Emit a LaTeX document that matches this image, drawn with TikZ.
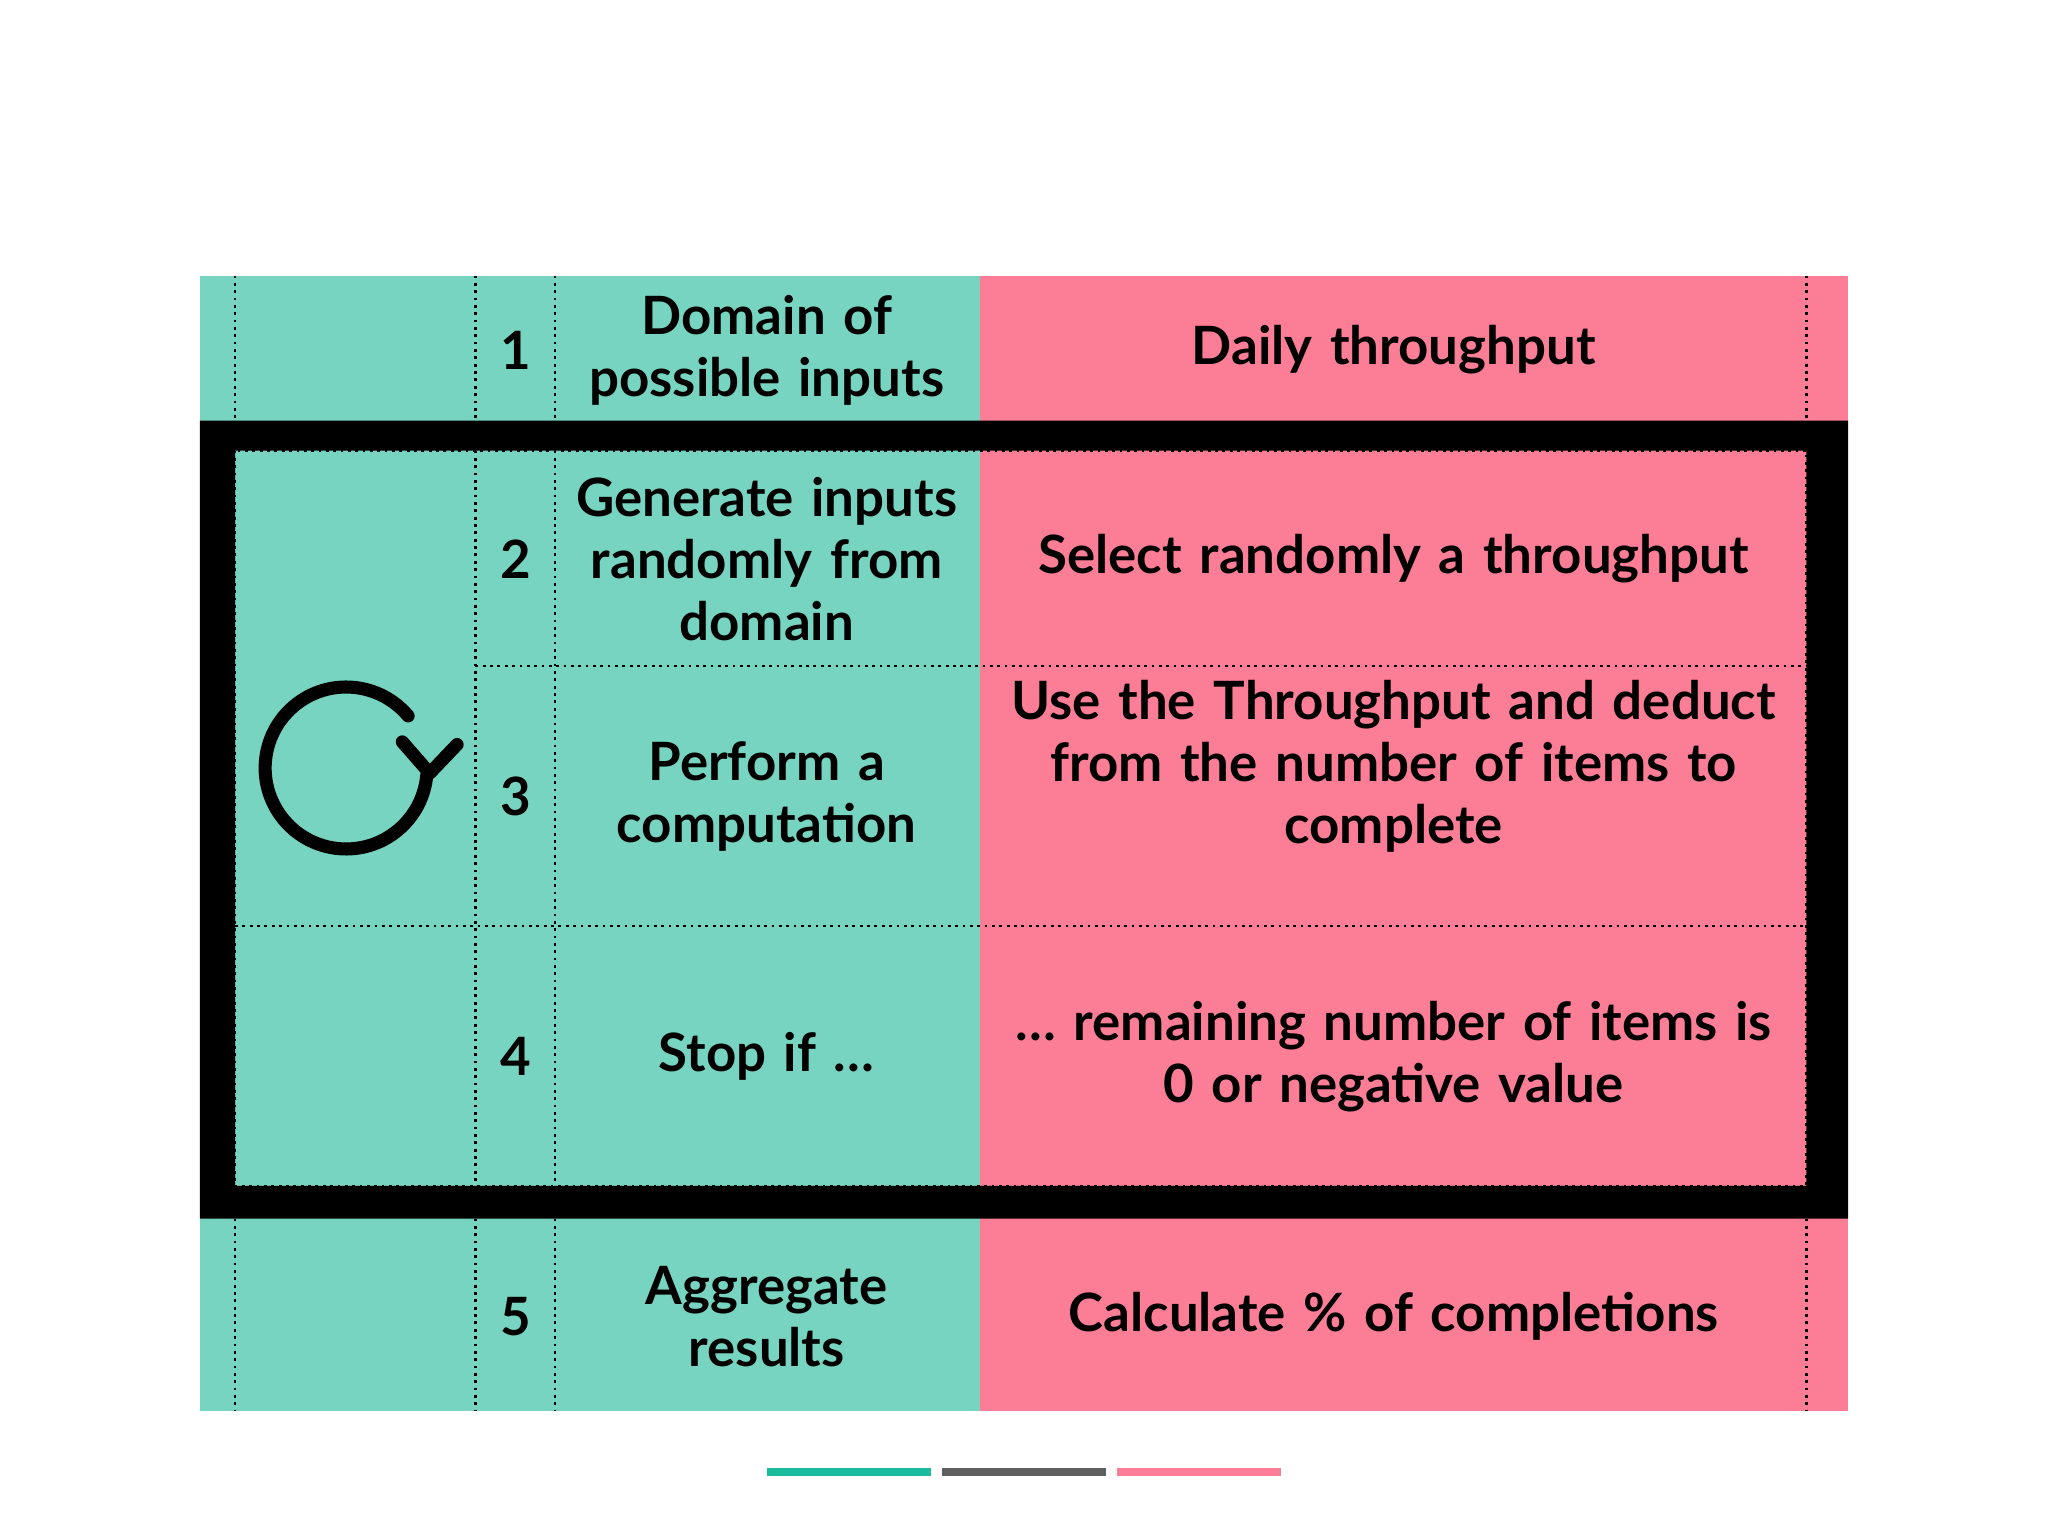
\documentclass[tikz,border=0pt]{standalone}
\usepackage{fontspec}
\setmainfont{Lato}
\usetikzlibrary{arrows.meta}
\definecolor{tgreen}{HTML}{76D4C0}
\definecolor{tpink}{HTML}{FB7E96}
\definecolor{bgreen}{HTML}{1ABC9C}
\definecolor{bgray}{HTML}{5F5F5F}
\tikzset{
  dl/.style={densely dotted, line width=0.6pt},
  txt/.style={font=\bfseries\fontsize{11.5}{13.5}\selectfont, align=center, text width=#1},
  num/.style={font=\bfseries\fontsize{11.5}{13.5}\selectfont},
}
\begin{document}
\begin{tikzpicture}[x=0.01cm,y=-0.01cm]
\useasboundingbox (0,0) rectangle (1568,1176);
\fill[white] (0,0) rectangle (1568,1176);
\fill[tgreen] (153,211) rectangle (750,1080);
\fill[tpink] (750,211) rectangle (1415,1080);
% black frame
\fill[black,even odd rule] (153,322) rectangle (1415,933) (180,345) rectangle (1383,908);
% dotted lines
\foreach \x in {180,364,425,1383}{
  \draw[dl] (\x,211) -- (\x,322);
  \draw[dl] (\x,933) -- (\x,1080);
}
\draw[dl] (364,345) -- (364,908);
\draw[dl] (425,345) -- (425,908);
\draw[dl] (180,345) rectangle (1383,908);
\draw[dl] (364,510) -- (1383,510);
\draw[dl] (180,709) -- (1383,709);
% numbers
\node[num] (n1) at (395,268) {1};
\node[num] (n2) at (395,428) {2};
\node[num] (n3) at (395,610) {3};
\node[num] (n4) at (395,809) {4};
\node[num] (n5) at (395,1008) {5};
% green texts
\node[txt=6.5cm] (g1) at (587,268) {Domain of\\possible inputs};
\node[txt=6.5cm] (g2) at (587,428) {Generate inputs\\randomly from\\domain};
\node[txt=6.5cm] (g3) at (587,610) {Perform a\\computation};
\node[txt=6.5cm] (g4) at (587,809) {Stop if \dots};
\node[txt=6.5cm] (g5) at (587,1008) {Aggregate\\results};
% pink texts
\node[txt=12cm] (p1) at (1067,268) {Daily throughput};
\node[txt=12cm] (p2) at (1067,428) {Select randomly a throughput};
\node[txt=12cm] (p3) at (1067,587) {Use the Throughput and deduct\\from the number of items to\\complete};
\node[txt=12cm] (p4) at (1067,809) {\dots\ remaining number of items is\\0 or negative value};
\node[txt=12cm] (p5) at (1067,1008) {Calculate \% of completions};
% loop icon
\draw[line width=0.1cm, line cap=round] (265,588) ++(-40:62) arc[start angle=-40, end angle=-355, radius=62];
\draw[line width=0.1cm, line cap=round, line join=round] (308,568) -- (329,592) -- (350,570);
% legend bars
\fill[bgreen] (587,1124) rectangle (713,1130);
\fill[bgray] (721,1124) rectangle (847,1130);
\fill[tpink] (855,1124) rectangle (981,1130);
\end{tikzpicture}
\end{document}
